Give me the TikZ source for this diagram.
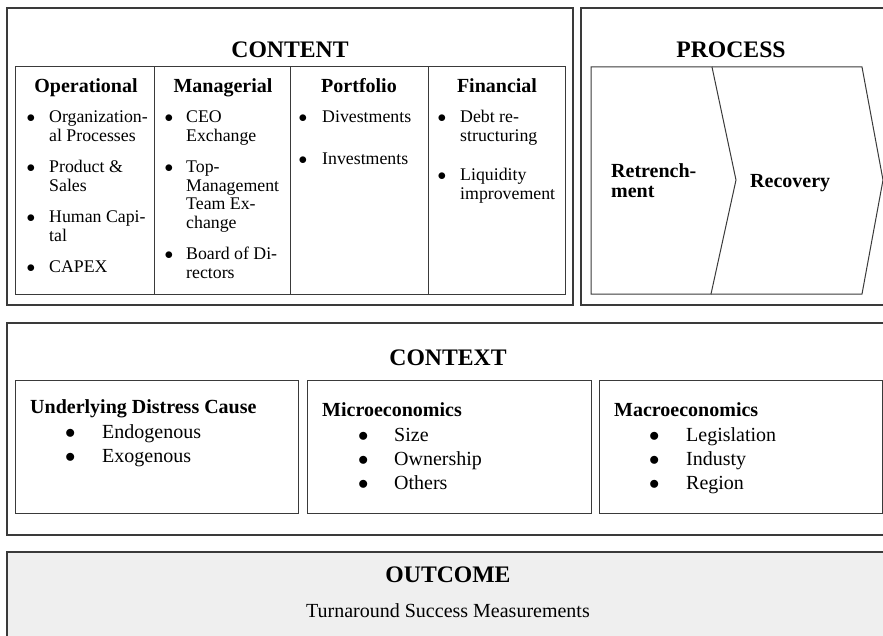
\documentclass[tikz,border=0pt]{standalone}
\usepackage{fontspec}
\setmainfont{Liberation Serif}
\usetikzlibrary{positioning}

\definecolor{boxline}{HTML}{3A3A3A}
\definecolor{outfill}{HTML}{EFEFEF}

\newcommand{\titlefnt}{\fontsize{23.7}{26}\selectfont\bfseries}
\newcommand{\headfnt}{\fontsize{20}{20}\selectfont\bfseries}
\newcommand{\itemfnt}{\fontsize{17.8}{18.5}\selectfont}
\newcommand{\ctxfnt}{\fontsize{20}{24}\selectfont}
\newcommand{\bul}{\ensuremath{\bullet}}

\begin{document}
\begin{tikzpicture}[x=1pt, y=-1pt]
	\useasboundingbox (0,0) rectangle (883,636);

	% define the styles of the boxes and texts
	\tikzstyle{outer box} = [draw=boxline, line width=1.3pt]
	\tikzstyle{inner box} = [draw=boxline, line width=1pt]
	\tikzstyle{title} = [anchor=base, inner sep=0pt, font=\titlefnt]
	\tikzstyle{head} = [anchor=base, inner sep=0pt, font=\headfnt]
	\tikzstyle{list} = [anchor=base west, inner sep=0pt, font=\itemfnt]
	\tikzstyle{ctx list} = [anchor=base west, inner sep=0pt, font=\ctxfnt]

	% content
	\draw[outer box] (7,8) rectangle (573,305);
	\draw[inner box] (15,67) rectangle (565,294);
	\foreach \x in {154,290,428}
		\draw[inner box] (\x,67) -- (\x,294);
	\node[title] (content) at (290,58) {CONTENT};
	\node[head] (operational) at (86,93) {Operational};
	\node[head] (managerial) at (223,93) {Managerial};
	\node[head] (portfolio) at (359,93) {Portfolio};
	\node[head] (financial) at (497,93) {Financial};
	\node[list] (oplist) at (26.5,123) {\begin{tabular}[t]{@{}p{22.5pt}@{}l@{}}
		\bul & Organization-\\ & al Processes\\[13pt]
		\bul & Product \&\\ & Sales\\[13pt]
		\bul & Human Capi-\\ & tal\\[13pt]
		\bul & CAPEX
	\end{tabular}};
	\node[list] (mglist) at (164.5,123) {\begin{tabular}[t]{@{}p{21.5pt}@{}l@{}}
		\bul & CEO\\ & Exchange\\[13pt]
		\bul & Top-\\ & Management\\ & Team Ex-\\ & change\\[13pt]
		\bul & Board of Di-\\ & rectors
	\end{tabular}};
	\node[list] (pflist) at (298.5,123) {\begin{tabular}[t]{@{}p{23.5pt}@{}l@{}}
		\bul & Divestments\\[23.5pt]
		\bul & Investments
	\end{tabular}};
	\node[list] (fnlist) at (437.5,123) {\begin{tabular}[t]{@{}p{22.5pt}@{}l@{}}
		\bul & Debt re-\\ & structuring\\[21pt]
		\bul & Liquidity\\ & improvement
	\end{tabular}};

	% process
	\draw[outer box] (581,8) rectangle (892,305);
	\draw[inner box] (591,67) -- (712,67) -- (736,180) -- (711,294) -- (591,294) -- cycle;
	\draw[inner box] (712,67) -- (862,67) -- (883,180) -- (862,294) -- (711,294);
	\node[title] (process) at (731,58) {PROCESS};
	\node[head, anchor=base west] (retrench) at (611,178) {\begin{tabular}[t]{@{}l@{}}Retrench-\\ment\end{tabular}};
	\node[head, anchor=base west] (recovery) at (750,188) {Recovery};

	% context
	\draw[outer box] (7,323) rectangle (892,535);
	\node[title] (context) at (448,365) {CONTEXT};
	\draw[inner box] (15,380) rectangle (298,513);
	\draw[inner box] (307,380) rectangle (591,513);
	\draw[inner box] (599,380) rectangle (882,513);
	\node[head, anchor=base west] (distress) at (30,413) {Underlying Distress Cause};
	\node[ctx list] (distresslist) at (65,438) {\begin{tabular}[t]{@{}p{37pt}@{}l@{}}
		\bul & Endogenous\\ \bul & Exogenous
	\end{tabular}};
	\node[head, anchor=base west] (micro) at (322,416) {Microeconomics};
	\node[ctx list] (microlist) at (358,441) {\begin{tabular}[t]{@{}p{36pt}@{}l@{}}
		\bul & Size\\ \bul & Ownership\\ \bul & Others
	\end{tabular}};
	\node[head, anchor=base west] (macro) at (614,416) {Macroeconomics};
	\node[ctx list] (macrolist) at (649,441) {\begin{tabular}[t]{@{}p{37pt}@{}l@{}}
		\bul & Legislation\\ \bul & Industy\\ \bul & Region
	\end{tabular}};

	% outcome
	\draw[outer box, fill=outfill] (7,552) rectangle (892,650);
	\node[title] (outcome) at (448,582) {OUTCOME};
	\node[anchor=base, inner sep=0pt, font=\ctxfnt] (measures) at (448,617) {Turnaround Success Measurements};
\end{tikzpicture}
\end{document}
